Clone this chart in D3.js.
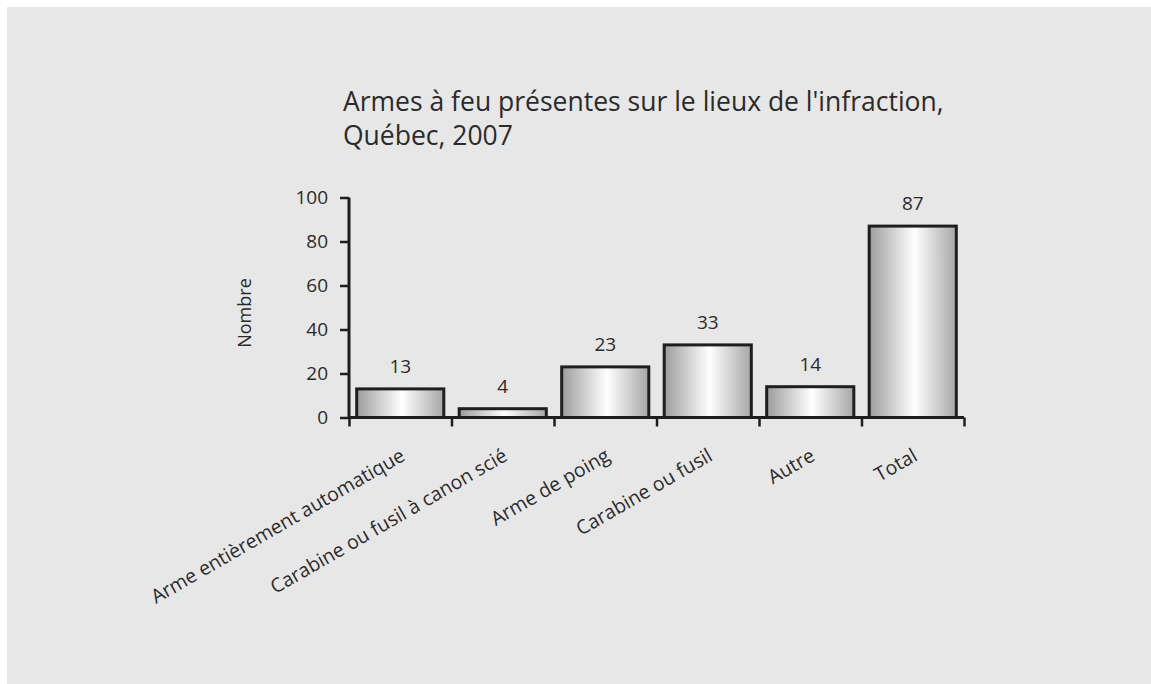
<!DOCTYPE html>
<html>
<head>
<meta charset="utf-8">
<script src="https://cdn.jsdelivr.net/npm/d3@7/dist/d3.min.js"></script>
<style>
  body { margin: 0; background: #fff; }
  svg { display: block; }
  text { font-family: "Open Sans", sans-serif; fill: #2b2b2b; }
</style>
</head>
<body>
<div id="chart"></div>
<script>
'use strict';

// data
var categories = ['Arme entièrement automatique', 'Carabine ou fusil à canon scié',
  'Arme de poing', 'Carabine ou fusil', 'Autre', 'Total'];
var values = [13, 4, 23, 33, 14, 87];
var yTicks = [0, 20, 40, 60, 80, 100];
var titleLines = ["Armes à feu présentes sur le lieux de l'infraction,", 'Québec, 2007'];

function render() {
  var width = 1151;
  var height = 684;

  var svg = d3.select('#chart').append('svg')
    .attr('width', width)
    .attr('height', height);

  // bar gradient (grey - white - grey)
  var grad = svg.append('defs').append('linearGradient')
    .attr('id', 'barGrad')
    .attr('x1', '0%').attr('x2', '100%')
    .attr('y1', '0%').attr('y2', '0%');
  grad.append('stop').attr('offset', '0%').attr('stop-color', '#9c9c9c');
  grad.append('stop').attr('offset', '52%').attr('stop-color', '#ffffff');
  grad.append('stop').attr('offset', '100%').attr('stop-color', '#a6a6a6');

  // grey panel
  svg.append('rect')
    .attr('x', 7).attr('y', 7)
    .attr('width', width - 7).attr('height', height - 7)
    .attr('fill', '#e7e7e7');

  var left = 349, right = 964, top = 197.5, bottom = 417.5;

  var x = d3.scaleBand()
    .domain(categories)
    .range([left, right])
    .paddingInner(0.15)
    .paddingOuter(0.075);

  var xTick = d3.scaleLinear()
    .domain([0, categories.length])
    .range([left, right]);

  var y = d3.scaleLinear()
    .domain([0, 100])
    .range([bottom, top]);

  // title
  svg.append('text')
    .attr('x', 343)
    .attr('y', 111)
    .style('font-size', '26.5px')
    .selectAll('tspan')
    .data(titleLines)
    .enter()
    .append('tspan')
    .attr('x', 343)
    .attr('dy', (d, i) => i === 0 ? 0 : 34)
    .text(d => d);

  // y axis
  var yAxis = svg.append('g')
    .attr('transform', 'translate(' + left + ',0)')
    .call(d3.axisLeft(y).tickValues(yTicks).tickSize(9).tickPadding(12));
  yAxis.select('.domain').attr('stroke', '#1e1e1e').attr('stroke-width', 3)
    .attr('d', 'M0,' + top + 'V' + bottom);
  yAxis.selectAll('.tick line').attr('stroke', '#1e1e1e').attr('stroke-width', 2.5);
  yAxis.selectAll('.tick text')
    .style('font-size', '19px')
    .style('font-family', '"Open Sans", sans-serif')
    .attr('fill', '#2b2b2b');

  // x axis (ticks between categories)
  var xAxis = svg.append('g')
    .attr('transform', 'translate(0,' + bottom + ')')
    .call(d3.axisBottom(xTick).tickValues(d3.range(categories.length + 1))
      .tickSize(9).tickFormat(''));
  xAxis.select('.domain').attr('stroke', '#1e1e1e').attr('stroke-width', 3)
    .attr('d', 'M' + left + ',0H' + right);
  xAxis.selectAll('.tick line').attr('stroke', '#1e1e1e').attr('stroke-width', 2.5);

  // y label
  svg.append('text')
    .attr('transform', 'translate(251,313) rotate(-90)')
    .attr('text-anchor', 'middle')
    .style('font-size', '18px')
    .text('Nombre');

  // bars
  svg.selectAll('rect.bar')
    .data(values)
    .enter()
    .append('rect')
    .attr('class', 'bar')
    .attr('x', (d, i) => x(categories[i]))
    .attr('y', d => y(d))
    .attr('width', x.bandwidth())
    .attr('height', d => y(0) - y(d))
    .attr('fill', 'url(#barGrad)')
    .attr('stroke', '#1e1e1e')
    .attr('stroke-width', 3);

  // value labels
  svg.selectAll('text.val')
    .data(values)
    .enter()
    .append('text')
    .attr('class', 'val')
    .attr('x', (d, i) => x(categories[i]) + x.bandwidth() / 2)
    .attr('y', d => y(d) - 16)
    .attr('text-anchor', 'middle')
    .style('font-size', '19px')
    .text(d => d);

  // category labels, rotated
  svg.selectAll('text.cat')
    .data(categories)
    .enter()
    .append('text')
    .attr('class', 'cat')
    .attr('text-anchor', 'end')
    .attr('transform', d => 'translate(' + (x(d) + x.bandwidth() / 2 + 6) + ',' + (bottom + 42) + ') rotate(-30)')
    .style('font-size', '19.5px')
    .text(d => d);
}

render();
</script>
</body>
</html>
